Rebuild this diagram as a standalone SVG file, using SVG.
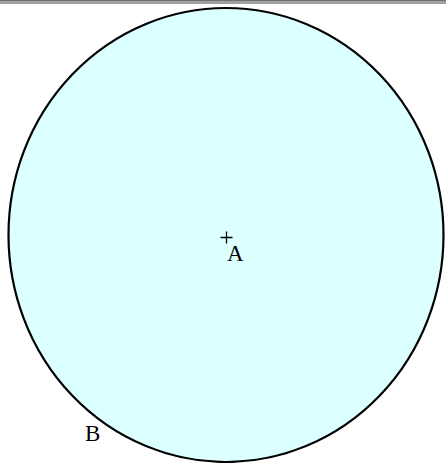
<svg xmlns="http://www.w3.org/2000/svg" width="446" height="463" viewBox="0 0 446 463">
<style>
.lbl{font-family:"Liberation Serif","Times New Roman",serif;font-size:23px;fill:#000}
</style>
<rect x="0" y="0" width="446" height="463" fill="#ffffff"/>
<rect x="0" y="0" width="446" height="4" fill="#a0a0a0"/>
<rect x="0" y="0" width="446" height="1" fill="#707070"/>
<g id="circle">
<ellipse cx="226" cy="235" rx="217.5" ry="227" fill="#dcffff" stroke="#000" stroke-width="2.2"/>
</g>
<g id="A">
<path d="M220.5 237.5h12M226.5 231.5v12" stroke="#000" stroke-width="1.3" fill="none"/>
<text class="lbl" x="227" y="261">A</text>
</g>
<g id="B">
<text class="lbl" x="85" y="441">B</text>
</g>
<g id="connectors"></g>
</svg>
